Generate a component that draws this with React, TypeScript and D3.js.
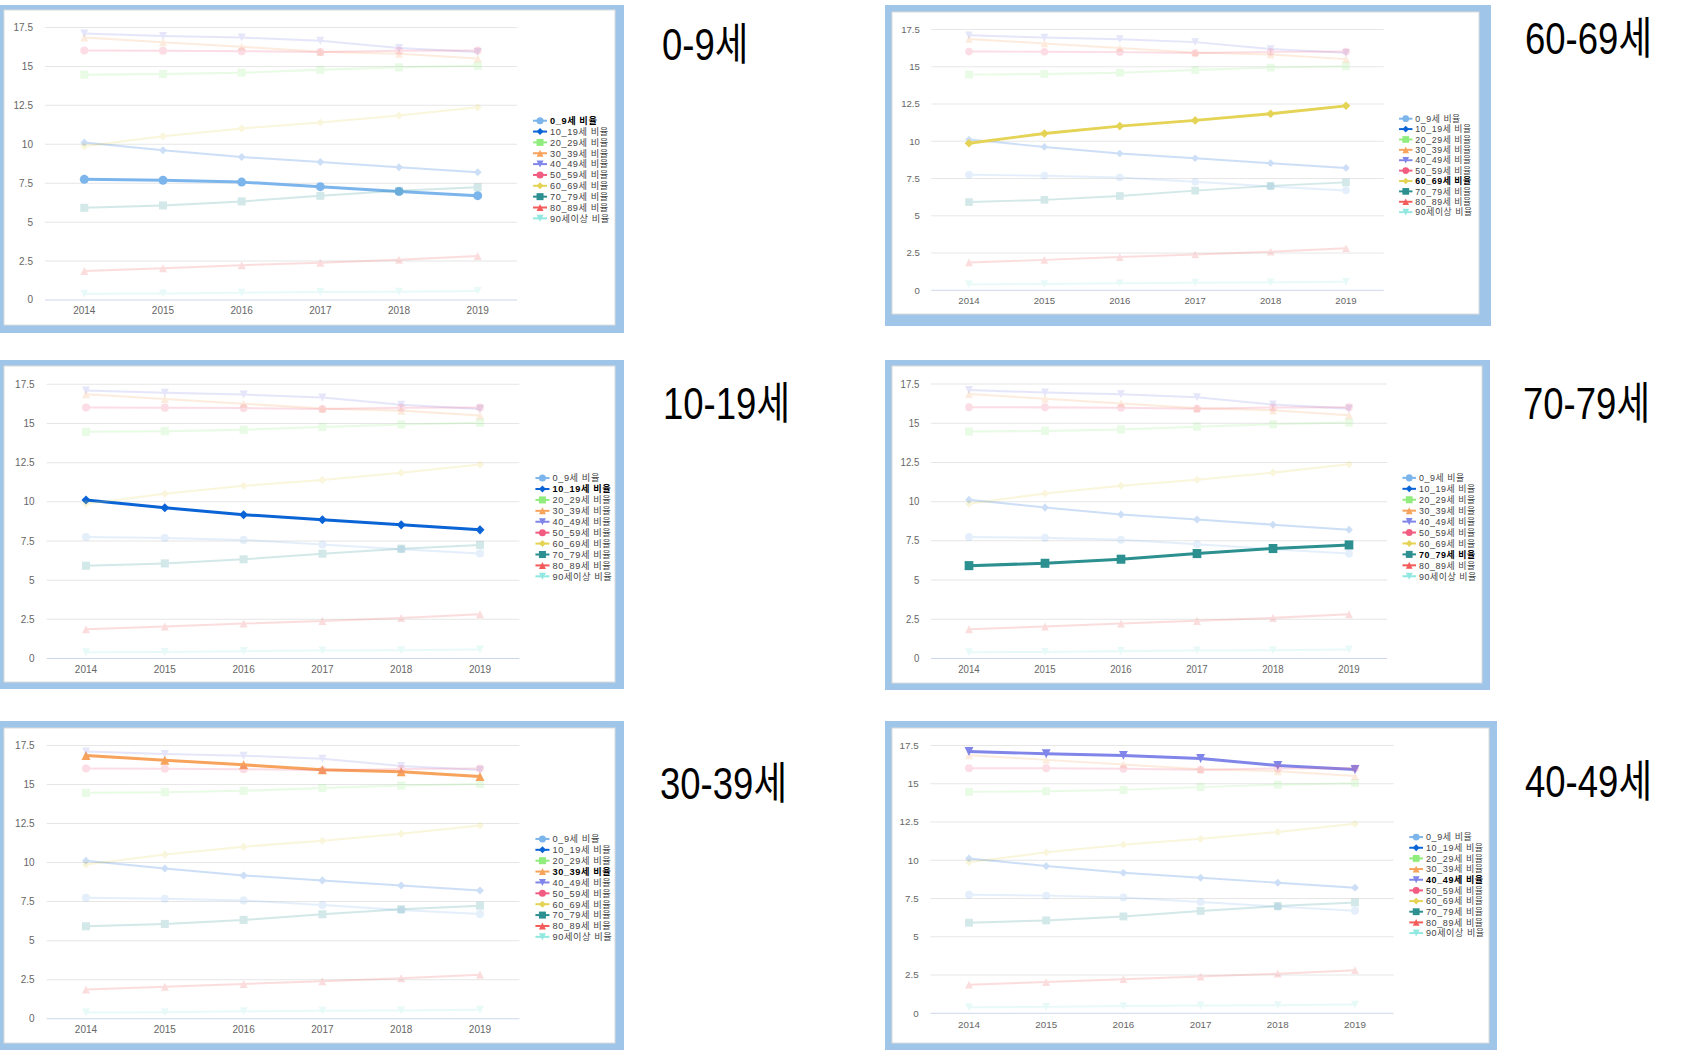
import React from 'react'
import * as d3 from 'd3'

// values (% of population by age group)
const years = ['2014', '2015', '2016', '2017', '2018', '2019']
const seriesNames = [
    '0_9세 비율', '10_19세 비율', '20_29세 비율', '30_39세 비율', '40_49세 비율',
    '50_59세 비율', '60_69세 비율', '70_79세 비율', '80_89세 비율', '90세이상 비율'
]
const age0to9 = [7.75, 7.69, 7.57, 7.28, 6.97, 6.7]
const age10to19 = [10.12, 9.62, 9.18, 8.86, 8.53, 8.21]
const age20to29 = [14.47, 14.51, 14.6, 14.78, 14.94, 15.04]
const age30to39 = [16.86, 16.56, 16.26, 15.95, 15.82, 15.51]
const age40to49 = [17.11, 16.96, 16.85, 16.65, 16.19, 15.93]
const age50to59 = [16.02, 16.01, 15.98, 15.92, 16.0, 16.02]
const age60to69 = [9.87, 10.52, 11.02, 11.4, 11.85, 12.38]
const age70to79 = [5.92, 6.07, 6.33, 6.69, 7.01, 7.24]
const age80to89 = [1.87, 2.04, 2.23, 2.4, 2.59, 2.82]
const age90plus = [0.4, 0.42, 0.47, 0.51, 0.53, 0.57]
const yTicks = [0, 2.5, 5, 7.5, 10, 12.5, 15, 17.5]
const panelTitles = ['0-9세', '60-69세', '10-19세', '70-79세', '30-39세', '40-49세']
const focusSeries = [0, 6, 1, 7, 3, 4]

const colors = ['#7cb5ec', '#0a64d6', '#90ed7d', '#f7a35c', '#8085e9', '#f15c80', '#e4d354', '#2b908f', '#f45b5b', '#91e8e1']
const symbols = ['circle', 'diamond', 'square', 'triangle', 'triangle-down']

const allSeries = [age0to9, age10to19, age20to29, age30to39, age40to49, age50to59, age60to69, age70to79, age80to89, age90plus]
    .map((values, i) => ({ name: seriesNames[i], values, color: colors[i], symbol: symbols[i % 5] }))

const FONT = "'Liberation Sans', 'Noto Sans CJK KR', Arial, sans-serif"

// base chart frame (the first screenshot); other panels are rescaled copies
const plot = { left: 45, right: 517, top: 27.5, bottom: 300 }
const xScale = d3.scalePoint().domain(years).range([plot.left, plot.right]).padding(0.5)
const yScale = d3.scaleLinear().domain([0, 17.5]).range([plot.bottom, plot.top])
const fmt = d3.format('')

const markerPath = (type, r) => {
    if (type === 'circle') return `M${-r},0a${r},${r} 0 1,0 ${2 * r},0a${r},${r} 0 1,0 ${-2 * r},0Z`
    if (type === 'diamond') return `M0,${-r}L${r},0L0,${r}L${-r},0Z`
    if (type === 'square') return `M${-r},${-r}H${r}V${r}H${-r}Z`
    if (type === 'triangle') return `M0,${-r}L${r},${r}L${-r},${r}Z`
    return `M${-r},${-r}L${r},${-r}L0,${r}Z`
}

const line = d3.line().x((d, i) => xScale(years[i])).y(d => yScale(d))

const panels = [
    { frame: [-6, 5, 630, 328], inner: [4, 10, 611, 315], anchors: [84.3, 477.7, 27.5, 300], title: [662, 60] },
    { frame: [885, 5, 606, 321], inner: [892, 12, 587, 302], anchors: [969, 1346, 29.5, 290.3], title: [1525, 54] },
    { frame: [-6, 360, 630, 329], inner: [4, 366, 611, 316], anchors: [86, 480, 384.3, 658.5], title: [663, 419] },
    { frame: [885, 360, 605, 330], inner: [892, 366, 590, 317], anchors: [969, 1349, 384, 658.5], title: [1523, 419] },
    { frame: [-6, 721, 630, 335], inner: [4, 728, 611, 315], anchors: [86, 480, 745.5, 1018.7], title: [660, 799] },
    { frame: [885, 721, 612, 335], inner: [892, 728, 597, 315], anchors: [969, 1355, 745.5, 1013.3], title: [1525, 797] },
]

const Chart = ({ focus }) => {
    const legendY = i => 120.7 + i * 10.85
    return (
        <g fontFamily={FONT}>
            {yTicks.map(t => (
                <g key={t}>
                    {t > 0 && <line x1={plot.left} x2={plot.right} y1={yScale(t)} y2={yScale(t)} stroke='#e6e6e6' strokeWidth={1} />}
                    <text x={33} y={yScale(t) + 3.5} textAnchor='end' fontSize={10} fill='#666'>{fmt(t)}</text>
                </g>
            ))}
            <line x1={plot.left} x2={plot.right} y1={plot.bottom} y2={plot.bottom} stroke='#ccd6eb' strokeWidth={1} />
            {years.map(y => (
                <text key={y} x={xScale(y)} y={314.5} textAnchor='middle' fontSize={10} fill='#666'>{y}</text>
            ))}
            {allSeries.map((s, i) => {
                const on = i === focus
                return (
                    <g key={s.name} opacity={on ? 1 : 0.2}>
                        <path d={line(s.values)} fill='none' stroke={s.color} strokeWidth={on ? 3 : 2} strokeLinejoin='round' strokeLinecap='round' />
                        {s.values.map((v, j) => (
                            <path key={j} d={markerPath(s.symbol, on ? 4.5 : 4)} transform={`translate(${xScale(years[j])},${yScale(v)})`} fill={s.color} />
                        ))}
                    </g>
                )
            })}
            {allSeries.map((s, i) => (
                <g key={s.name} transform={`translate(0,${legendY(i)})`}>
                    <line x1={533} x2={547} y1={0} y2={0} stroke={s.color} strokeWidth={2} />
                    <path d={markerPath(s.symbol, 3.5)} transform='translate(540,0)' fill={s.color} />
                    <text x={550} y={3.3} fontSize={9.2} letterSpacing={0.6} fill={i === focus ? '#000' : '#444'} fontWeight={i === focus ? 'bold' : 'normal'}>{s.name}</text>
                </g>
            ))}
        </g>
    )
}

export default function App() {
    const base = [xScale('2014'), xScale('2019'), plot.top, plot.bottom]
    return (
        <svg width={1684} height={1050} style={{ position: 'absolute', left: 0, top: 0, background: '#fff' }}>
            <rect x={0} y={0} width={1684} height={1050} fill='#fff' />
            {panels.map((p, k) => {
                const [x0, x1, yT, yB] = p.anchors
                const sx = (x1 - x0) / (base[1] - base[0])
                const sy = (yB - yT) / (base[3] - base[2])
                const tx = x0 - base[0] * sx
                const ty = yT - base[2] * sy
                return (
                    <g key={k}>
                        <rect x={p.frame[0]} y={p.frame[1]} width={p.frame[2]} height={p.frame[3]} fill='#9fc5e8' />
                        <rect x={p.inner[0]} y={p.inner[1]} width={p.inner[2]} height={p.inner[3]} fill='#fff' stroke='#dcdcdc' strokeWidth={1} />
                        <g transform={`translate(${tx},${ty}) scale(${sx},${sy})`}>
                            <Chart focus={focusSeries[k]} />
                        </g>
                        <text transform={`translate(${p.title[0]},${p.title[1]}) scale(0.83,1)`} fontFamily={FONT} fontSize={44} fill='#000'>{panelTitles[k]}</text>
                    </g>
                )
            })}
        </svg>
    )
}
